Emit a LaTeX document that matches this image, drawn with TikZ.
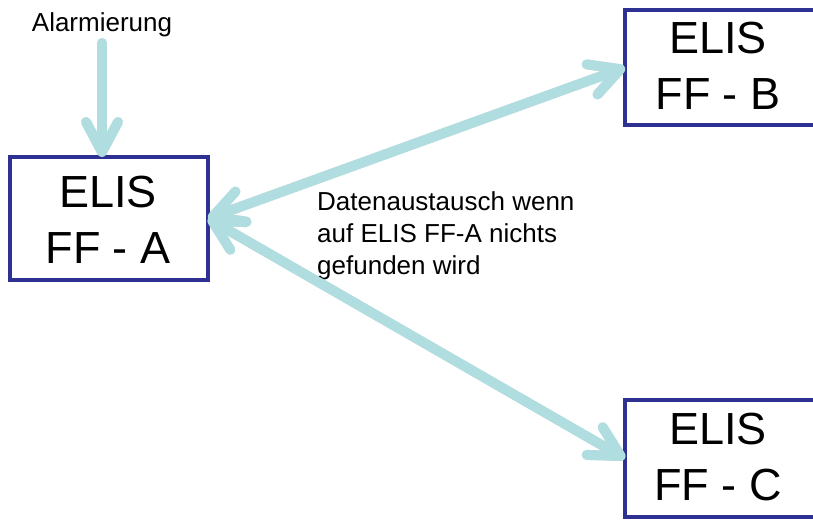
\documentclass[tikz,border=0pt]{standalone}
\usepackage{fontspec}
\setmainfont{Liberation Sans}
\usetikzlibrary{arrows.meta}
\definecolor{boxblue}{RGB}{46,49,146}
\definecolor{arrowcyan}{RGB}{176,221,224}
\tikzset{
  elisbox/.style={draw=boxblue, line width=4pt, fill=white, inner sep=0pt, outer sep=0pt},
  openbox/.style={fill=white, inner sep=0pt, outer sep=0pt},
  boxline/.style={draw=boxblue, line width=4pt, line join=miter},
  elistext/.style={align=center, inner sep=0pt, font=\fontsize{45}{56}\selectfont},
  arr/.style={draw=arrowcyan, line width=10pt, line cap=round, -{Straight Barb[length=30pt,width=32pt,round]}},
  arrboth/.style={draw=arrowcyan, line width=10pt, line cap=round,
    {Straight Barb[length=30pt,width=32pt,round]}-{Straight Barb[length=30pt,width=32pt,round]}},
  smalltext/.style={font=\fontsize{26}{32}\selectfont, inner sep=0pt}
}
\begin{document}
\begin{tikzpicture}[x=1pt,y=-1pt]
\useasboundingbox (0,0) rectangle (813,519);
\clip (0,0) rectangle (813,519);
\fill[white] (0,0) rectangle (813,519);

\node[elisbox, minimum width=198pt, minimum height=123pt] (A) at (109,218.5) {};
\node[openbox, minimum width=200pt, minimum height=115pt] (B) at (725,67.5) {};
\node[openbox, minimum width=200pt, minimum height=117pt] (C) at (725,458.5) {};
\draw[boxline] (B.north east) -- (B.north west) -- (B.south west) -- (B.south east);
\draw[boxline] (C.north east) -- (C.north west) -- (C.south west) -- (C.south east);
\node[elistext] (At) at (108,220) {ELIS\\FF - A};
\node[elistext] (Bt) at (718,66) {ELIS\\FF - B};
\node[elistext] (Ct) at (718,457) {ELIS\\FF - C};

\node[smalltext, anchor=base] (alarm) at (102,32) {Alarmierung};
\coordinate (alarmstart) at (102,43);
\coordinate (alarmend) at (alarmstart |- A.north);

\node[smalltext, anchor=north west, align=left] (txt) at (317,191)
  {Datenaustausch wenn\\auf ELIS FF-A nichts\\gefunden wird};

% shadows
\begin{scope}[shift={(1.5,3)}]
\draw[arr, draw=black, opacity=0.10] (alarmstart) -- (alarmend);
\draw[arrboth, draw=black, opacity=0.10] (A.east) -- (B.west);
\draw[arrboth, draw=black, opacity=0.10] (A.east) -- (C.west);
\end{scope}

\draw[arr] (alarmstart) -- (alarmend);
\draw[arrboth] (A.east) -- (B.west);
\draw[arrboth] (A.east) -- (C.west);
\end{tikzpicture}
\end{document}
